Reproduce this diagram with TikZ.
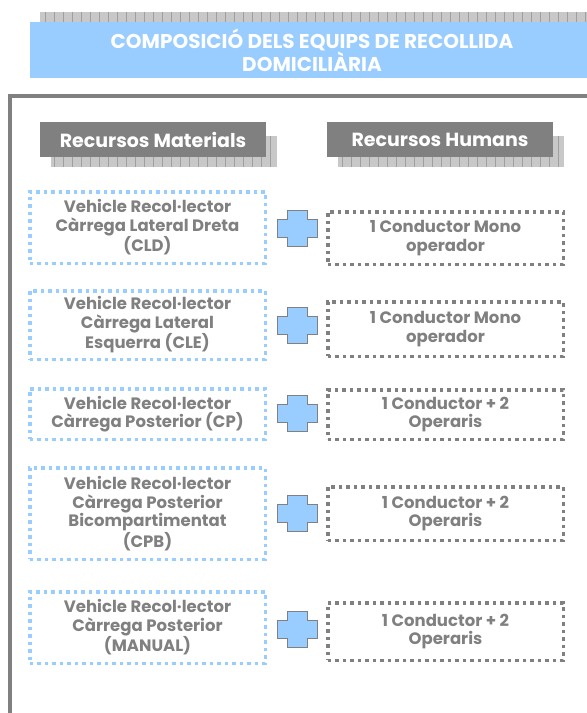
\documentclass[tikz,border=0pt]{standalone}
\usepackage{fontspec}
\setmainfont{Poppins}
\usepackage{tikz}
\usetikzlibrary{patterns}
\definecolor{celblau}{HTML}{99CCFF}
\definecolor{grisfosc}{HTML}{808080}
\definecolor{grisclar}{HTML}{C8C8C8}
\newcommand\material[4]{\node[material,minimum height=#3] (#1) at (147.5,#2) {#4};}
\newcommand\huma[4]{\node[huma,minimum height=#3] (#1) at (445.5,#2) {#4};}
\newcommand\creu[2]{\coordinate (#1) at (297,#2); \draw[creu,shift={(#1)}] (-20,-9) -- (-10,-9) -- (-10,-18) -- (10,-18) -- (10,-9) -- (20,-9) -- (20,9) -- (10,9) -- (10,18) -- (-10,18) -- (-10,9) -- (-20,9) -- cycle;}
\newcommand\capcalera[4]{\fill[grisclar] (#2+11,#3+14) rectangle (#2+#4+11,#3+45); \draw[ombra] (#2+11,#3+14) grid (#2+#4+11,#3+45); \node[capcalera,minimum width=#4] (#1) at (#2+#4/2,#3+17.5) {\csname text#1\endcsname};}
\newcommand\textmaterials{Recursos Materials}
\newcommand\texthumans{Recursos Humans}

\begin{document}
\begin{tikzpicture}[x=1pt,y=-1pt]
\tikzstyle{material}=[draw=celblau,line width=3.5pt,dash pattern=on 3.5pt off 4pt,text=grisfosc,font=\bfseries\fontsize{16.5}{18.5}\selectfont,align=center,minimum width=235.5pt,inner sep=0pt]
\tikzstyle{huma}=[material,draw=grisfosc]
\tikzstyle{creu}=[fill=celblau,draw=grisfosc,line width=1pt,line join=miter]
\tikzstyle{capcalera}=[fill=grisfosc,text=white,font=\bfseries\fontsize{19}{20}\selectfont,minimum height=35pt,inner sep=0pt]
\tikzstyle{ombra}=[draw=gray!75,line width=0.5pt,xstep=9,ystep=7.75]
\tikzstyle{titol}=[text=white,font=\bfseries\fontsize{20}{20}\selectfont,align=center]
\useasboundingbox (0,0) rectangle (587,713);

% banner del titol
\fill[grisclar] (40,12) rectangle (587,22);
\draw[ombra,ystep=10] (40,12) grid (587,22);
\fill[celblau] (30,22) rectangle (587,78);
\node[titol] (titol) at (312,50) {COMPOSICIÓ DELS EQUIPS DE RECOLLIDA\\DOMICILIÀRIA};

% marc
\draw[grisfosc,line width=4pt] (9.5,713) -- (9.5,96) -- (587,96);

% capcaleres de columna
\capcalera{materials}{40}{122}{226}
\capcalera{humans}{327}{122}{226}

\material{cld}{227.5}{71.5}{Vehicle Recol·lector\\Càrrega Lateral Dreta\\(CLD)}
\creu{c1}{228}
\huma{h1}{238}{52.5}{1 Conductor Mono\\operador}

\material{cle}{325}{68.5}{Vehicle Recol·lector\\Càrrega Lateral\\Esquerra (CLE)}
\creu{c2}{325}
\huma{h2}{329}{54.5}{1 Conductor Mono\\operador}

\material{cp}{414}{50.5}{Vehicle Recol·lector\\Càrrega Posterior (CP)}
\creu{c3}{413}
\huma{h3}{414.5}{49.5}{1 Conductor + 2\\Operaris}

\material{cpb}{513.5}{91.5}{Vehicle Recol·lector\\Càrrega Posterior\\Bicompartimentat\\(CPB)}
\creu{c4}{513}
\huma{h4}{513.5}{53.5}{1 Conductor + 2\\Operaris}

\material{manual}{627.5}{71.5}{Vehicle Recol·lector\\Càrrega Posterior\\(MANUAL)}
\creu{c5}{629}
\huma{h5}{631.5}{57.5}{1 Conductor + 2\\Operaris}
\end{tikzpicture}
\end{document}
